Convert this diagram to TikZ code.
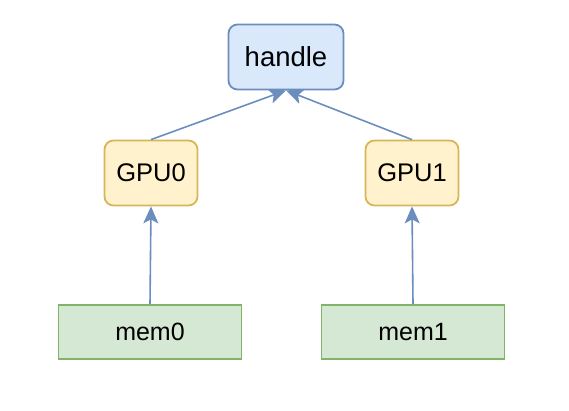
\documentclass[tikz,border=0pt]{standalone}
\usepackage{fontspec}
\setmainfont{Liberation Sans}
\usepackage{xcolor}
\usetikzlibrary{arrows.meta}

\definecolor{bluefill}{HTML}{DAE8FC}
\definecolor{bluedraw}{HTML}{6C8EBF}
\definecolor{yellowfill}{HTML}{FFF2CC}
\definecolor{yellowdraw}{HTML}{D6B656}
\definecolor{greenfill}{HTML}{D5E8D4}
\definecolor{greendraw}{HTML}{82B366}

\tikzset{
  handlebox/.style={draw=bluedraw,fill=bluefill,rounded corners=9pt,line width=1.8pt,
    minimum width=115pt,minimum height=65pt,font=\fontsize{27.5}{31}\selectfont},
  gpubox/.style={draw=yellowdraw,fill=yellowfill,rounded corners=9pt,line width=1.8pt,
    minimum width=93pt,minimum height=65pt,font=\fontsize{25.5}{29}\selectfont},
  membox/.style={draw=greendraw,fill=greenfill,line width=1.8pt,
    minimum width=183pt,minimum height=54pt,font=\fontsize{25}{29}\selectfont},
  link/.style={draw=bluedraw,line width=1.6pt,-{Stealth[length=17pt,width=15pt,inset=4pt]}}
}

\begin{document}
\begin{tikzpicture}[x=1pt,y=-1pt]
  \useasboundingbox (0,0) rectangle (569,410);
  \node[handlebox] (handle) at (286,57) {handle};
  \node[gpubox] (gpu0) at (151,173) {GPU0};
  \node[gpubox] (gpu1) at (412,173) {GPU1};
  \node[membox] (mem0) at (150,332) {mem0};
  \node[membox] (mem1) at (413,332) {mem1};
  \draw[link] (gpu0.north) -- (handle.south);
  \draw[link] (gpu1.north) -- (handle.south);
  \draw[link] (mem0.north) -- (gpu0.south);
  \draw[link] (mem1.north) -- (gpu1.south);
\end{tikzpicture}
\end{document}
